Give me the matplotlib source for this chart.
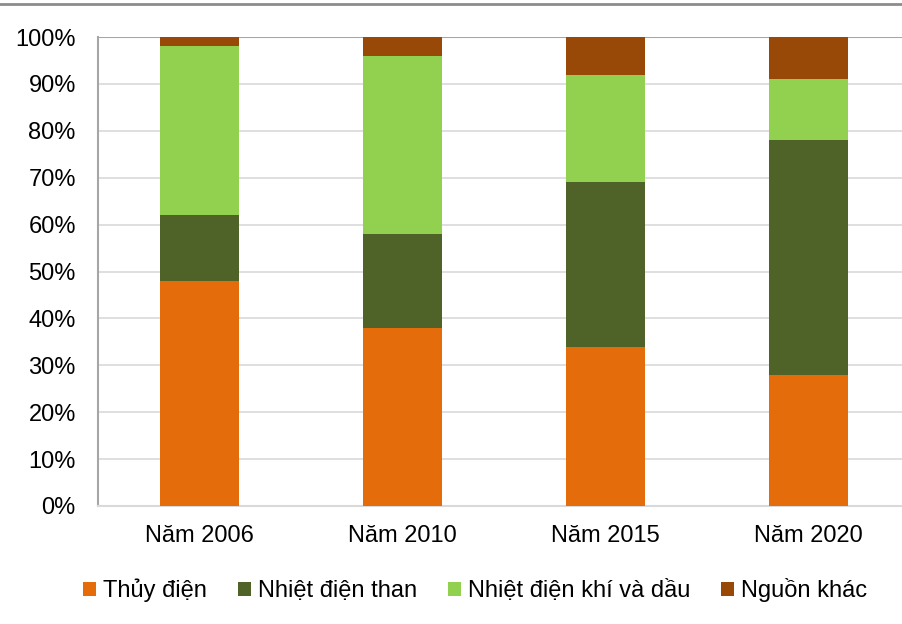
import matplotlib.pyplot as plt
from matplotlib.lines import Line2D
import numpy as np

plt.rcParams['font.family'] = ['Liberation Sans', 'DejaVu Sans']

years = ["Năm 2006", "Năm 2010", "Năm 2015", "Năm 2020"]
series = ["Thủy điện", "Nhiệt điện than", "Nhiệt điện khí và dầu", "Nguồn khác"]
thuy_dien = [48, 38, 34, 28]
than = [14, 20, 35, 50]
khi_dau = [36, 38, 23, 13]
khac = [2, 4, 8, 9]
colors = ["#E46C0A", "#4F6228", "#92D050", "#984807"]

fig = plt.figure(figsize=(9.03, 6.24), dpi=100)
ax = fig.add_axes([98 / 903, 1 - 506 / 624, 812 / 903, 469 / 624])

# top border line
fig.add_artist(Line2D([0, 1], [1 - 4 / 624, 1 - 4 / 624], color="#8c8c8c", lw=2))

x = np.arange(len(years))
bottom = np.zeros(len(years))
for vals, name, c in zip([thuy_dien, than, khi_dau, khac], series, colors):
    ax.bar(x, vals, 0.394, bottom=bottom, color=c, label=name, zorder=3)
    bottom += np.array(vals)

ax.set_xlim(-0.5, 3.5)
ax.set_ylim(0, 100)
ax.set_yticks(range(0, 101, 10))
ax.set_yticklabels([f"{v}%" for v in range(0, 101, 10)])
ax.set_xticks(x)
ax.set_xticklabels(years)
ax.tick_params(length=0, labelsize=17)
ax.tick_params(axis='y', pad=16)
ax.tick_params(axis='x', pad=14)
ax.grid(axis='y', color="#d9d9d9", lw=1.2, zorder=0)
for s in ["top", "right"]:
    ax.spines[s].set_visible(False)
ax.spines["left"].set_color("#a6a6a6")
ax.spines["bottom"].set_color("#d9d9d9")
ax.spines["left"].set_linewidth(1.5)
ax.spines["bottom"].set_linewidth(1.5)
ax.spines["left"].set_bounds(0, 100)
ax.axhline(100, color="#a6a6a6", lw=1.5, zorder=2)

fig.legend(loc="center", bbox_to_anchor=(0.526, 1 - 590 / 624), ncol=4, frameon=False,
           fontsize=17, handlelength=0.55, handleheight=0.55, handletextpad=0.3,
           columnspacing=1.3)

plt.savefig("out.png", dpi=100)
